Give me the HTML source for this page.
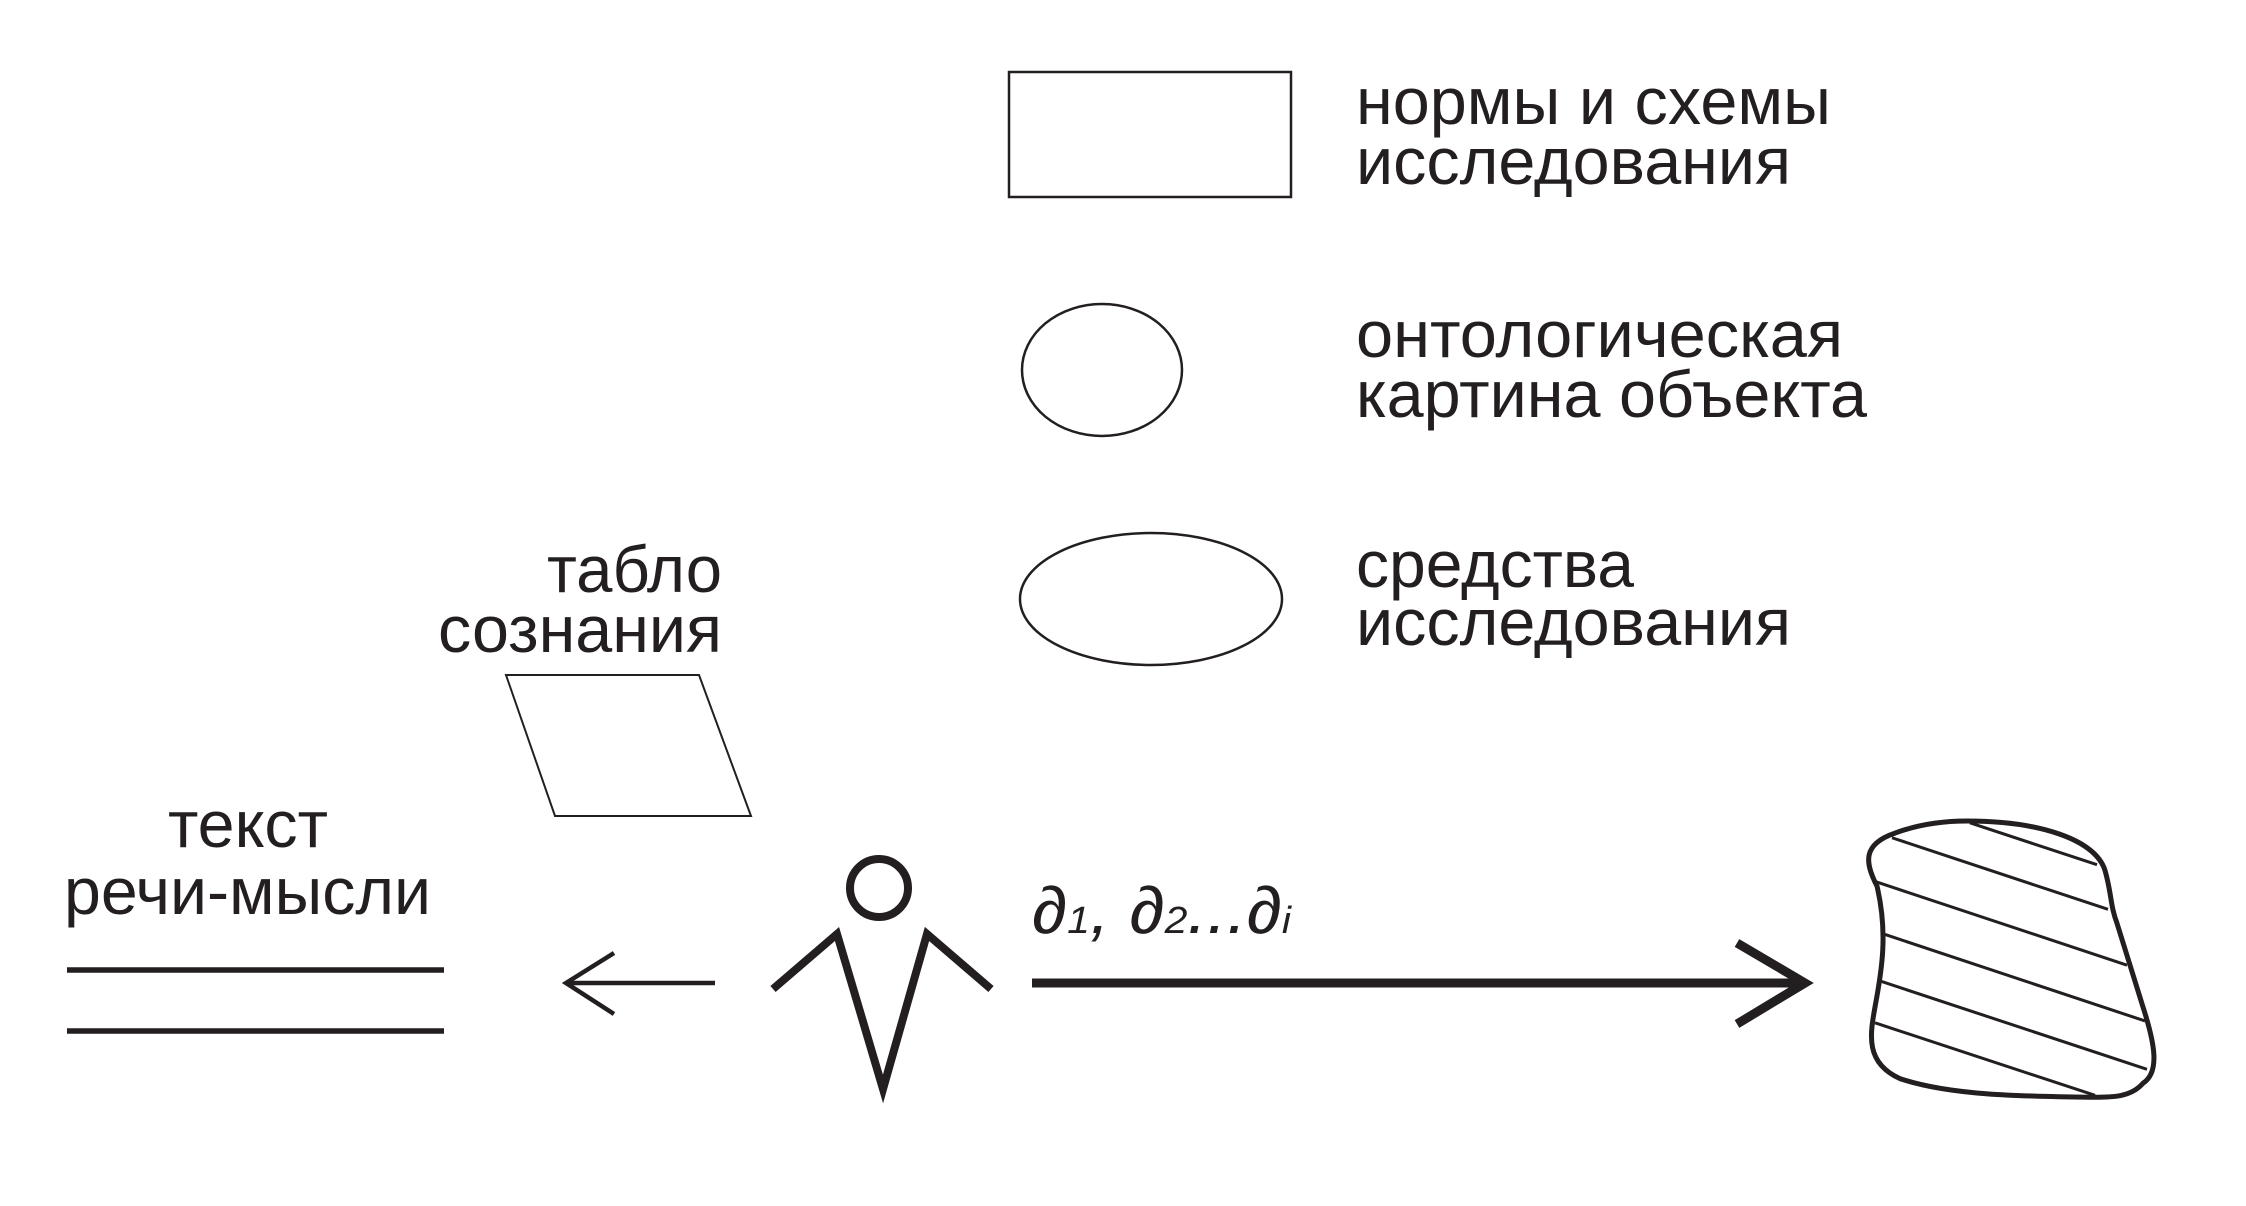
<!DOCTYPE html>
<html><head><meta charset="utf-8"><style>
html,body{margin:0;padding:0;background:#fff;}
svg{display:block}
text{font-family:"Liberation Sans",sans-serif;fill:#231f20;font-size:66px}
</style></head><body>
<svg width="2246" height="1206" viewBox="0 0 2246 1206" xmlns="http://www.w3.org/2000/svg">
<g transform="translate(-5,-3)">
<g fill="none" stroke="#231f20">
<rect x="1014" y="75" width="282" height="125" stroke-width="2.5"/>
<ellipse cx="1107" cy="373" rx="80" ry="66" stroke-width="2.5"/>
<ellipse cx="1156" cy="602" rx="131" ry="66" stroke-width="2.5"/>
<polygon points="511,678 704,678 756,819 560,819" stroke-width="2"/>
<line x1="72" y1="973" x2="449" y2="973" stroke-width="5.5"/>
<line x1="72" y1="1034" x2="449" y2="1034" stroke-width="5.5"/>
<line x1="571" y1="986" x2="720" y2="986" stroke-width="4.5"/>
<polyline points="619,956 571,986 619,1017" stroke-width="4.5"/>
<circle cx="884" cy="891" r="29" stroke-width="8"/>
<polyline points="778,992 842,937 888,1092 932,937 996,992" stroke-width="8"/>
<line x1="1037" y1="986" x2="1808" y2="986" stroke-width="9"/>
<polyline points="1742,946 1810,986 1742,1027" stroke-width="9"/>
</g>
<text x="1361" y="127" textLength="475" lengthAdjust="spacingAndGlyphs">нормы и схемы</text>
<text x="1361" y="187" textLength="435" lengthAdjust="spacingAndGlyphs">исследования</text>
<text x="1361" y="360" textLength="487" lengthAdjust="spacingAndGlyphs">онтологическая</text>
<text x="1361" y="420" textLength="511" lengthAdjust="spacingAndGlyphs">картина объекта</text>
<text x="1361" y="590" textLength="278" lengthAdjust="spacingAndGlyphs">средства</text>
<text x="1361" y="648" textLength="435" lengthAdjust="spacingAndGlyphs">исследования</text>
<text x="552" y="595" textLength="175" lengthAdjust="spacingAndGlyphs">табло</text>
<text x="443" y="655" textLength="284" lengthAdjust="spacingAndGlyphs">сознания</text>
<text x="173" y="850" textLength="160" lengthAdjust="spacingAndGlyphs">текст</text>
<text x="69" y="917" textLength="367" lengthAdjust="spacingAndGlyphs">речи-мысли</text>
<text x="1037" y="936" font-style="italic" font-size="58" textLength="259" lengthAdjust="spacingAndGlyphs">∂<tspan font-size="38">1</tspan>, ∂<tspan font-size="38">2</tspan>...∂<tspan font-size="38">i</tspan></text>
</g>
<g fill="none" stroke="#231f20" transform="translate(0,77) scale(1,0.93)">
<g stroke-width="3" vector-effect="non-scaling-stroke">
<line x1="1970" y1="802" x2="2097" y2="847" vector-effect="non-scaling-stroke"/>
<line x1="1892" y1="818" x2="2108" y2="895" vector-effect="non-scaling-stroke"/>
<line x1="1875" y1="865" x2="2127" y2="955" vector-effect="non-scaling-stroke"/>
<line x1="1885" y1="922" x2="2145" y2="1015" vector-effect="non-scaling-stroke"/>
<line x1="1880" y1="972" x2="2147" y2="1067" vector-effect="non-scaling-stroke"/>
<line x1="1875" y1="1017" x2="2095" y2="1095" vector-effect="non-scaling-stroke"/>
</g>
<path vector-effect="non-scaling-stroke" d="M1967,800 C2040,800 2095,820 2105,853 C2112,880 2110,890 2117,910 L2143,1000 C2155,1040 2160,1070 2143,1082 C2130,1098 2110,1097 2090,1097 C2020,1096 1950,1095 1900,1077 C1865,1060 1870,1030 1875,1000 C1882,960 1888,920 1877,870 C1865,845 1862,825 1895,813 C1920,803 1945,800 1967,800 Z" stroke-width="5"/>
</g>
</svg>
</body></html>
